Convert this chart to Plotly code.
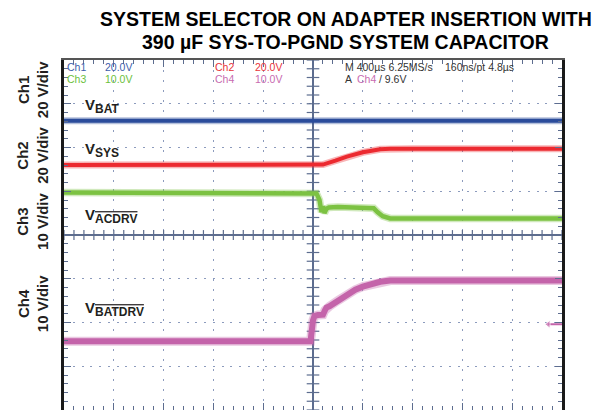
import numpy as np
import plotly.graph_objects as go

# ---- data: time in µs (400 µs/div), values in screen divisions ----
t_bat = [-2000, 2000]
v_bat = [2.61, 2.61]

t_sys = [-2000, 0, 80, 180, 272, 400, 540, 620, 800, 2000]
v_sys = [1.60, 1.60, 1.61, 1.70, 1.79, 1.89, 1.96, 1.97, 1.97, 1.97]

t_acdrv = [-2000, 0, 28, 52, 68, 80, 92, 108, 128, 200, 400, 488, 520, 560, 620, 2000]
v_acdrv = [0.97, 0.97, 0.95, 0.80, 0.52, 0.66, 0.50, 0.60, 0.63, 0.64, 0.63, 0.61, 0.52, 0.43, 0.38, 0.38]

t_batdrv = [-2000, -20, 0, 12, 40, 80, 96, 108, 132, 200, 272, 340, 400, 480, 540, 620, 2000]
v_batdrv = [-2.43, -2.43, -1.95, -1.85, -1.83, -1.82, -1.72, -1.66, -1.63, -1.50, -1.35, -1.25,
            -1.18, -1.11, -1.07, -1.04, -1.04]

trigger_level = -2.04

colors = ["#2b4c9b", "#ec2a30", "#7cc242", "#c464aa"]

X_RANGE = [-2000, 2000]
Y_RANGE = [-4, 4]
X_DIV, Y_DIV = 400, 1
GRID = "#8c9bbd"
AXC = "#5d6d8f"

fig = go.Figure()

# crosshair minor ticks (from the axis division settings)
cx = [v for v in np.arange(X_RANGE[0], X_RANGE[1] + 1, X_DIV / 5) if v != 0]
cy = [v for v in np.arange(Y_RANGE[0], Y_RANGE[1] + 0.001, Y_DIV / 5) if abs(v) > 1e-9]
fig.add_trace(go.Scatter(x=cx, y=[0] * len(cx), mode="markers", hoverinfo="skip",
                         marker=dict(symbol="line-ns", size=7, line=dict(width=1.2, color=AXC))))
fig.add_trace(go.Scatter(x=[0] * len(cy), y=cy, mode="markers", hoverinfo="skip",
                         marker=dict(symbol="line-ew", size=9, line=dict(width=1.2, color=AXC))))

def add_series(t, v, color, w):
    fig.add_trace(go.Scatter(x=t, y=v, mode="lines", hoverinfo="skip", opacity=0.35,
                             line=dict(color=color, width=w + 3)))
    fig.add_trace(go.Scatter(x=t, y=v, mode="lines", hoverinfo="skip",
                             line=dict(color=color, width=w)))

add_series(t_bat, v_bat, colors[0], 4)
add_series(t_sys, v_sys, colors[1], 4)
add_series(t_acdrv, v_acdrv, colors[2], 4.5)
add_series(t_batdrv, v_batdrv, colors[3], 6)

# trigger level marker
fig.add_trace(go.Scatter(x=[1890, 2000], y=[trigger_level, trigger_level], mode="lines+markers",
                         hoverinfo="skip", line=dict(color=colors[3], width=2),
                         marker=dict(symbol=["triangle-left", "circle"], size=[7, 0], color=colors[3])))

axis_common = dict(showticklabels=False, showgrid=True, gridcolor=GRID, gridwidth=1.2,
                   zeroline=True, zerolinecolor=AXC, zerolinewidth=1.6,
                   ticks="inside", tickcolor=AXC, ticklen=7, tickwidth=1.2,
                   showline=True, mirror="allticks")
fig.update_xaxes(range=X_RANGE, dtick=X_DIV, tick0=0, griddash="2px,7.96px",
                 minor=dict(dtick=X_DIV / 5, ticks="inside", ticklen=4, tickcolor=AXC, showgrid=False),
                 linecolor="#555555", linewidth=2, **axis_common)
fig.update_yaxes(range=Y_RANGE, dtick=Y_DIV, tick0=0, griddash="2px,6.75px",
                 minor=dict(dtick=Y_DIV / 5, ticks="inside", ticklen=4, tickcolor=AXC, showgrid=False),
                 linecolor="#1a1a1a", linewidth=3, **axis_common)

ann = []
FONT = "Liberation Sans, Arial, sans-serif"
# title
ann.append(dict(xref="paper", yref="paper", x=0.566, y=(410 - 19) / 350, xanchor="center", yanchor="middle",
                text="<b>SYSTEM SELECTOR ON ADAPTER INSERTION WITH</b>", showarrow=False,
                font=dict(family=FONT, size=19.5, color="#000000")))
ann.append(dict(xref="paper", yref="paper", x=0.566, y=(410 - 42) / 350, xanchor="center", yanchor="middle",
                text="<b>390 µF SYS-TO-PGND SYSTEM CAPACITOR</b>", showarrow=False,
                font=dict(family=FONT, size=19.5, color="#000000")))

# channel labels at left
ch_labels = ["Ch1<br>20 V/div", "Ch2<br>20 V/div", "Ch3<br>10 V/div", "Ch4<br>10 V/div"]
ch_y = [3.31, 1.81, 0.30, -1.58]
for txt, yy in zip(ch_labels, ch_y):
    ann.append(dict(xref="paper", yref="y", x=(33 - 64) / 498, y=yy, xanchor="center", yanchor="middle",
                    text="<b>" + txt + "</b>", textangle=-90, showarrow=False,
                    font=dict(family=FONT, size=15, color="#231f20")))

# trace labels
lbl_text = [
    "<b>V<sub><span style='font-size:12px'>BAT</span></sub></b>",
    "<b>V<sub><span style='font-size:12px'>SYS</span></sub></b>",
    "<b>V<sub><span style='font-size:12px;text-decoration:overline'>ACDRV</span></sub></b>",
    "<b>V<sub><span style='font-size:12px;text-decoration:overline'>BATDRV</span></sub></b>",
]
lbl_y = [2.95, 1.94, 0.43, -1.69]
for txt, yy in zip(lbl_text, lbl_y):
    ann.append(dict(xref="x", yref="y", x=-1847, y=yy, xanchor="left", yanchor="middle",
                    text=txt, showarrow=False, font=dict(family=FONT, size=15, color="#231f20")))

# scope header text
hdr = [
    ("Ch1", 65, 67, "#3d5eab"), ("20.0V", 103, 67, "#3d5eab"),
    ("Ch3", 65, 79, "#6cbf3c"), ("10.0V", 103, 79, "#6cbf3c"),
    ("Ch2", 213, 67, "#e8333a"), ("20.0V", 253, 67, "#e8333a"),
    ("Ch4", 213, 79, "#c86bb0"), ("10.0V", 253, 79, "#c86bb0"),
    ("M 400µs 6.25MS/s", 343, 67, "#333333"), ("160ns/pt 4.8µs", 443, 67, "#333333"),
    ("A", 343, 79, "#333333"), ("Ch4", 355, 79, "#c86bb0"), ("/ 9.6V", 377, 79, "#333333"),
]
for txt, px, py, col in hdr:
    ann.append(dict(xref="paper", yref="paper", x=(px - 64) / 498, y=(410 - py) / 350,
                    xanchor="left", yanchor="middle", text=txt, showarrow=False,
                    font=dict(family=FONT, size=10.5, color=col)))

# page body has an 8px margin: figure is offset so the plot lands at x 64-562, y 60-410
fig.update_layout(width=593, height=402, margin=dict(l=56, r=39, t=52, b=0),
                  paper_bgcolor="white", plot_bgcolor="white", showlegend=False,
                  annotations=ann)

fig.write_html("out.html")
